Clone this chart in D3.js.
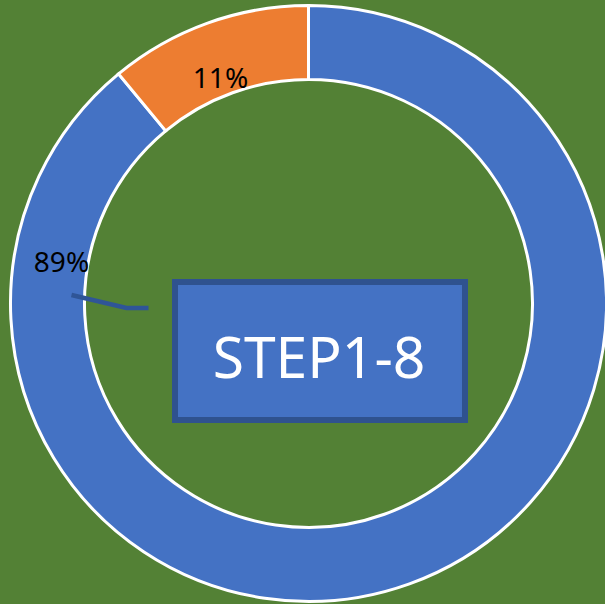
<!DOCTYPE html>
<html>
<head>
<meta charset="utf-8">
<script src="https://cdn.jsdelivr.net/npm/d3@7"></script>
<style>
  body { margin: 0; background: #538135; }
  svg { display: block; }
</style>
</head>
<body>
<div id="chart"></div>
<script>
// data
var categories = ["B", "A"];
var values = [89, 11];
var colors = ["#4472C4", "#ED7D31"];
var title = "STEP1-8";

var width = 605, height = 604;
var cx = 308.5, cy = 303.5;
var outerR = 298, innerR = 224;

var svg = d3.select("#chart")
  .append("svg")
  .attr("width", width)
  .attr("height", height);

svg.append("rect")
  .attr("width", width)
  .attr("height", height)
  .attr("fill", "#538135");

var g = svg.append("g")
  .attr("transform", "translate(" + cx + "," + cy + ")");

// pie goes clockwise from top, first slice is the big blue one
var pie = d3.pie()
  .sort(null)
  .value(function(d) { return d; });

var arcs = pie(values);

var arc = d3.arc()
  .innerRadius(innerR)
  .outerRadius(outerR);

g.selectAll("path.slice")
  .data(arcs)
  .enter().append("path")
  .attr("class", "slice")
  .attr("d", arc)
  .attr("fill", function(d, i) { return colors[i]; })
  .attr("stroke", "#fff")
  .attr("stroke-width", 3)
  .attr("stroke-linejoin", "miter");

var total = d3.sum(values);

// leader line for the 89% label
g.append("polyline")
  .attr("points", [[-237, -8.5], [-182, 4.5], [-160, 4.5]].map(function(p) { return p.join(","); }).join(" "))
  .attr("fill", "none")
  .attr("stroke", "#2F5597")
  .attr("stroke-width", 4.5);

// data labels
var labelPos = [[-247, -31.5], [-88, -215.5]];
g.selectAll("text.lbl")
  .data(arcs)
  .enter().append("text")
  .attr("class", "lbl")
  .attr("x", function(d, i) { return labelPos[i][0]; })
  .attr("y", function(d, i) { return labelPos[i][1]; })
  .attr("text-anchor", "middle")
  .attr("font-family", "Noto Sans")
  .attr("font-size", "28px")
  .attr("fill", "#000")
  .text(function(d) { return Math.round(d.value / total * 100) + "%"; });

// text box in the middle
svg.append("rect")
  .attr("x", 175)
  .attr("y", 282)
  .attr("width", 290)
  .attr("height", 138)
  .attr("fill", "#4472C4")
  .attr("stroke", "#2F528F")
  .attr("stroke-width", 6);

svg.append("text")
  .attr("x", 319)
  .attr("y", 378)
  .attr("text-anchor", "middle")
  .attr("font-family", "Noto Sans")
  .attr("font-size", "57px")
  .attr("fill", "#fff")
  .text(title);
</script>
</body>
</html>
